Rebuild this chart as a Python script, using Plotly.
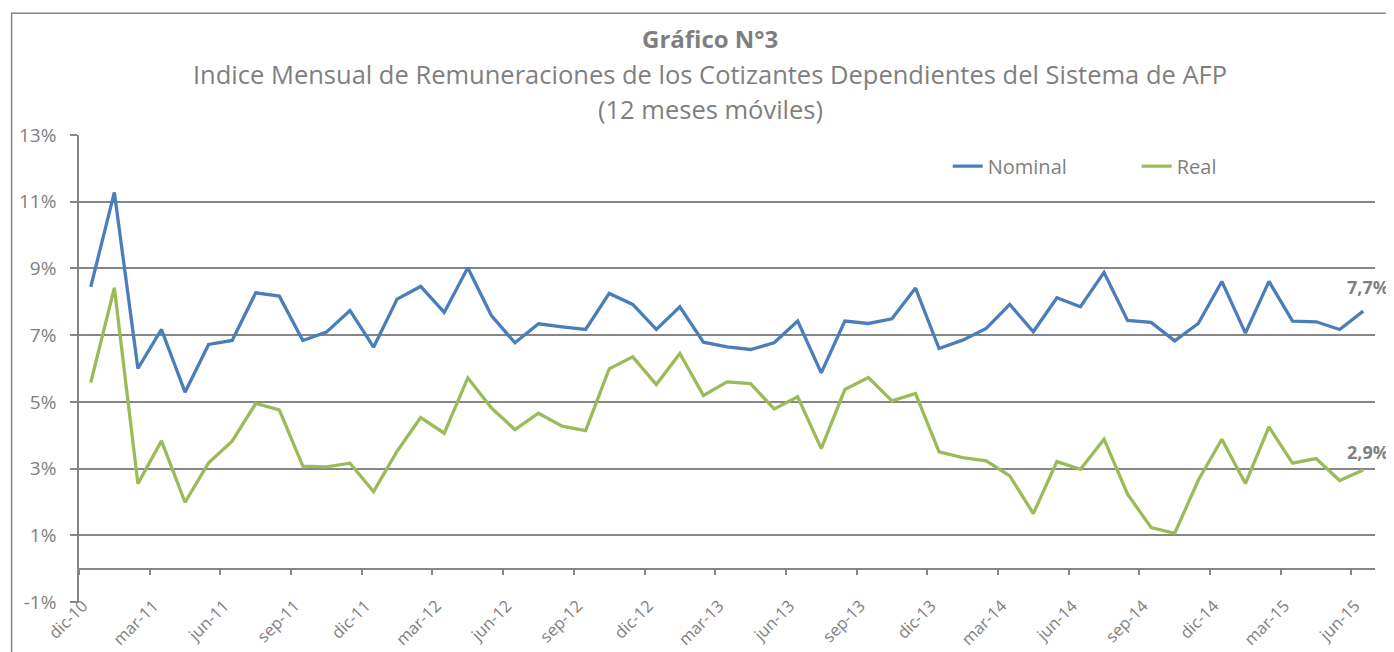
import plotly.graph_objects as go

months = ["dic-10", "ene-11", "feb-11", "mar-11", "abr-11", "may-11", "jun-11", "jul-11", "ago-11", "sep-11",
          "oct-11", "nov-11", "dic-11", "ene-12", "feb-12", "mar-12", "abr-12", "may-12", "jun-12", "jul-12",
          "ago-12", "sep-12", "oct-12", "nov-12", "dic-12", "ene-13", "feb-13", "mar-13", "abr-13", "may-13",
          "jun-13", "jul-13", "ago-13", "sep-13", "oct-13", "nov-13", "dic-13", "ene-14", "feb-14", "mar-14",
          "abr-14", "may-14", "jun-14", "jul-14", "ago-14", "sep-14", "oct-14", "nov-14", "dic-14", "ene-15",
          "feb-15", "mar-15", "abr-15", "may-15", "jun-15"]

nominal = [8.45, 11.28, 6.00, 7.17, 5.29, 6.72, 6.84, 8.27, 8.17, 6.84,
           7.09, 7.74, 6.64, 8.08, 8.46, 7.68, 9.02, 7.59, 6.77, 7.34,
           7.25, 7.17, 8.25, 7.92, 7.17, 7.85, 6.79, 6.65, 6.57, 6.77,
           7.42, 5.87, 7.42, 7.35, 7.49, 8.41, 6.60, 6.85, 7.20, 7.92,
           7.10, 8.12, 7.85, 8.88, 7.44, 7.38, 6.83, 7.35, 8.61, 7.06,
           8.61, 7.42, 7.40, 7.17, 7.72]

real = [5.58, 8.42, 2.55, 3.83, 1.99, 3.17, 3.82, 4.95, 4.76, 3.07,
        3.05, 3.16, 2.31, 3.52, 4.53, 4.06, 5.72, 4.82, 4.17, 4.66,
        4.27, 4.14, 5.99, 6.35, 5.52, 6.45, 5.19, 5.60, 5.55, 4.79,
        5.15, 3.60, 5.37, 5.73, 5.03, 5.25, 3.50, 3.33, 3.23, 2.78,
        1.65, 3.21, 2.98, 3.88, 2.23, 1.23, 1.06, 2.65, 3.88, 2.55,
        4.25, 3.16, 3.30, 2.64, 2.96]

y_ticks = [-1, 1, 3, 5, 7, 9, 11, 13]
y_tick_labels = ["-1%", "1%", "3%", "5%", "7%", "9%", "11%", "13%"]

last_labels = ["7,7%", "2,9%"]

FONT = "Open Sans"
GREY = "#7f7f7f"
LINE = "#868686"
BLUE = "#4A7EBB"
GREEN = "#9BBB59"

x = list(range(len(months)))
label_idx = list(range(0, len(months), 3))
boundaries = [i - 0.5 for i in label_idx]

fig = go.Figure()
fig.add_trace(go.Scatter(x=x, y=nominal, mode="lines", name="Nominal",
                         line=dict(color=BLUE, width=3.3), hoverinfo="skip"))
fig.add_trace(go.Scatter(x=x, y=real, mode="lines", name="Real",
                         line=dict(color=GREEN, width=3.3), hoverinfo="skip"))
# invisible trace to materialise the tick-mark axis at 0%
fig.add_trace(go.Scatter(x=x, y=real, mode="lines", xaxis="x2", showlegend=False,
                         opacity=0, hoverinfo="skip", line=dict(width=0)))

# end labels
fig.add_annotation(x=x[-1], y=nominal[-1], text="<b>%s</b>" % last_labels[0], showarrow=False,
                   xanchor="right", yanchor="bottom", xshift=28, yshift=10,
                   font=dict(family=FONT, size=18, color=GREY))
fig.add_annotation(x=x[-1], y=real[-1], text="<b>%s</b>" % last_labels[1], showarrow=False,
                   xanchor="right", yanchor="bottom", xshift=28, yshift=4,
                   font=dict(family=FONT, size=18, color=GREY))

# titles
cx = 0.487
fig.add_annotation(xref="paper", yref="paper", x=cx, y=1.207, text="<b>Gráfico N°3</b>",
                   showarrow=False, xanchor="center", yanchor="middle",
                   font=dict(family=FONT, size=24, color=GREY))
fig.add_annotation(xref="paper", yref="paper", x=cx, y=1.1305,
                   text="Indice Mensual de Remuneraciones de los Cotizantes Dependientes del Sistema de AFP",
                   showarrow=False, xanchor="center", yanchor="middle",
                   font=dict(family=FONT, size=25.5, color=GREY))
fig.add_annotation(xref="paper", yref="paper", x=cx, y=1.0557, text="(12 meses móviles)",
                   showarrow=False, xanchor="center", yanchor="middle",
                   font=dict(family=FONT, size=25.5, color=GREY))

# chart border
fig.add_shape(type="rect", xref="paper", yref="paper", x0=-0.052, x1=1.3, y0=-0.5, y1=1.2606,
              line=dict(color=LINE, width=1.5), layer="below")

fig.update_layout(
    width=1386, height=644,
    margin=dict(l=71, r=19, t=127, b=50, autoexpand=False),
    paper_bgcolor="white", plot_bgcolor="white",
    font=dict(family=FONT, size=19, color=GREY),
    showlegend=True,
    legend=dict(orientation="h", x=0.6703, y=0.975, xanchor="left", yanchor="top",
                entrywidth=144, entrywidthmode="pixels",
                font=dict(family=FONT, size=20, color=GREY), bgcolor="rgba(0,0,0,0)"),
    xaxis=dict(range=[-0.5, len(months) - 0.5], tickmode="array", tickvals=label_idx,
               ticktext=[months[i] for i in label_idx], tickangle=-45, ticks="",
               showgrid=False, zeroline=False, showline=False, automargin=False,
               ticklabelstandoff=-10, ticklabelshift=-8,
               tickfont=dict(family=FONT, size=16.5, color=GREY)),
    xaxis2=dict(range=[-0.5, len(months) - 0.5], overlaying="x", anchor="free", position=1 / 14,
                side="bottom", tickmode="array", tickvals=boundaries, ticks="outside", ticklen=6,
                tickcolor=LINE, tickwidth=1.5, showticklabels=False, showgrid=False, automargin=False,
                zeroline=False, showline=True, linecolor=LINE, linewidth=1.5),
    yaxis=dict(range=[-1, 13], tickmode="array", tickvals=y_ticks, ticktext=y_tick_labels,
               showgrid=True, gridcolor=LINE, gridwidth=1.5, zeroline=False, automargin=False,
               showline=True, linecolor=LINE, linewidth=1.5,
               ticks="outside", ticklen=7, tickcolor=LINE, tickwidth=1.5, ticklabelstandoff=10,
               tickfont=dict(family=FONT, size=19, color=GREY)),
)

fig.write_html("out.html")
